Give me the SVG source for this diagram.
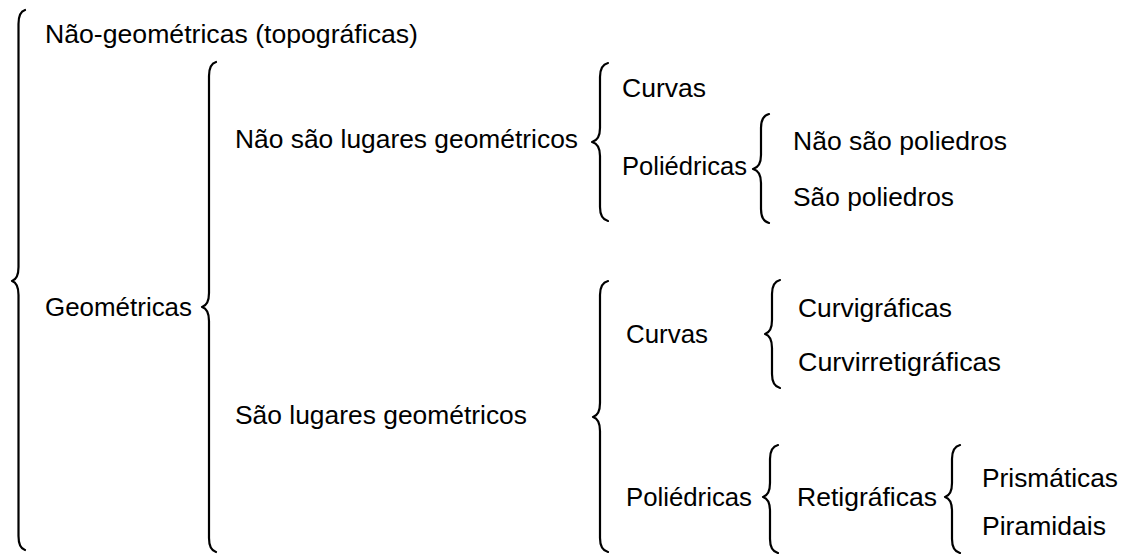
<svg xmlns="http://www.w3.org/2000/svg" width="1126" height="554" viewBox="0 0 1126 554">
<style>
text{font-family:"Liberation Sans",Arial,sans-serif;font-size:25px;fill:#000}
.br{fill:none;stroke:#000;stroke-width:2.2;stroke-linecap:round;stroke-linejoin:round}
</style>
<rect width="1126" height="554" fill="#fff"/>
<g id="connectors">
<path class="br" d="M25,10 C20,11.5 18.5,16 18.5,24 L18.5,267 C18.5,275 16.5,279.5 12,281 C16.5,282.5 18.5,287 18.5,295 L18.5,536 C18.5,544 20,548.5 25,550"/>
<path class="br" d="M216,62 C211,63.5 209,68 209,76 L209,293 C209,301 207,305.5 202,307 C207,308.5 209,313 209,321 L209,538 C209,546 211,550.5 216,552"/>
<path class="br" d="M608,63 C602,64.5 600,69 600,77 L600,128 C600,136 598,140.5 592,142 C598,143.5 600,148 600,156 L600,207 C600,215 602,219.5 608,221"/>
<path class="br" d="M769,114 C763,115.5 761,120 761,128 L761,155 C761,163 759,167.5 753,169 C759,170.5 761,175 761,183 L761,209 C761,217 763,221.5 769,223"/>
<path class="br" d="M608,281 C602,282.5 600,287 600,295 L600,403 C600,411 598,415.5 593,417 C598,418.5 600,423 600,431 L600,538 C600,546 602,550.5 608,552"/>
<path class="br" d="M780,280 C774,281.5 772,286 772,294 L772,320 C772,328 770,332.5 765,334 C770,335.5 772,340 772,348 L772,374 C772,382 774,386.5 780,388"/>
<path class="br" d="M778,445 C772,446.5 770,451 770,459 L770,483 C770,491 768,495.5 763,497 C768,498.5 770,503 770,511 L770,539 C770,547 772,551.5 778,553"/>
<path class="br" d="M960,445 C954,446.5 952,451 952,459 L952,483 C952,491 950,495.5 945,497 C950,498.5 952,503 952,511 L952,539 C952,547 954,551.5 960,553"/>
</g>
<g id="n-nao-geometricas"><text x="45" y="43" textLength="373" lengthAdjust="spacingAndGlyphs">Não-geométricas (topográficas)</text></g>
<g id="n-geometricas"><text x="45" y="316" textLength="147" lengthAdjust="spacingAndGlyphs">Geométricas</text></g>
<g id="n-nao-lugares"><text x="235" y="148" textLength="343" lengthAdjust="spacingAndGlyphs">Não são lugares geométricos</text></g>
<g id="n-lugares"><text x="235" y="424" textLength="292" lengthAdjust="spacingAndGlyphs">São lugares geométricos</text></g>
<g id="n-curvas-1"><text x="622" y="97" textLength="84" lengthAdjust="spacingAndGlyphs">Curvas</text></g>
<g id="n-poliedricas-1"><text x="622" y="175" textLength="125" lengthAdjust="spacingAndGlyphs">Poliédricas</text></g>
<g id="n-nao-poliedros"><text x="793" y="150" textLength="214" lengthAdjust="spacingAndGlyphs">Não são poliedros</text></g>
<g id="n-poliedros"><text x="793" y="206" textLength="161" lengthAdjust="spacingAndGlyphs">São poliedros</text></g>
<g id="n-curvas-2"><text x="626" y="343" textLength="82" lengthAdjust="spacingAndGlyphs">Curvas</text></g>
<g id="n-curvigraficas"><text x="798" y="317" textLength="154" lengthAdjust="spacingAndGlyphs">Curvigráficas</text></g>
<g id="n-curvirretigraficas"><text x="798" y="371" textLength="203" lengthAdjust="spacingAndGlyphs">Curvirretigráficas</text></g>
<g id="n-poliedricas-2"><text x="626" y="506" textLength="126" lengthAdjust="spacingAndGlyphs">Poliédricas</text></g>
<g id="n-retigraficas"><text x="797" y="506" textLength="140" lengthAdjust="spacingAndGlyphs">Retigráficas</text></g>
<g id="n-prismaticas"><text x="982" y="487" textLength="136" lengthAdjust="spacingAndGlyphs">Prismáticas</text></g>
<g id="n-piramidais"><text x="982" y="535" textLength="124" lengthAdjust="spacingAndGlyphs">Piramidais</text></g>
</svg>
